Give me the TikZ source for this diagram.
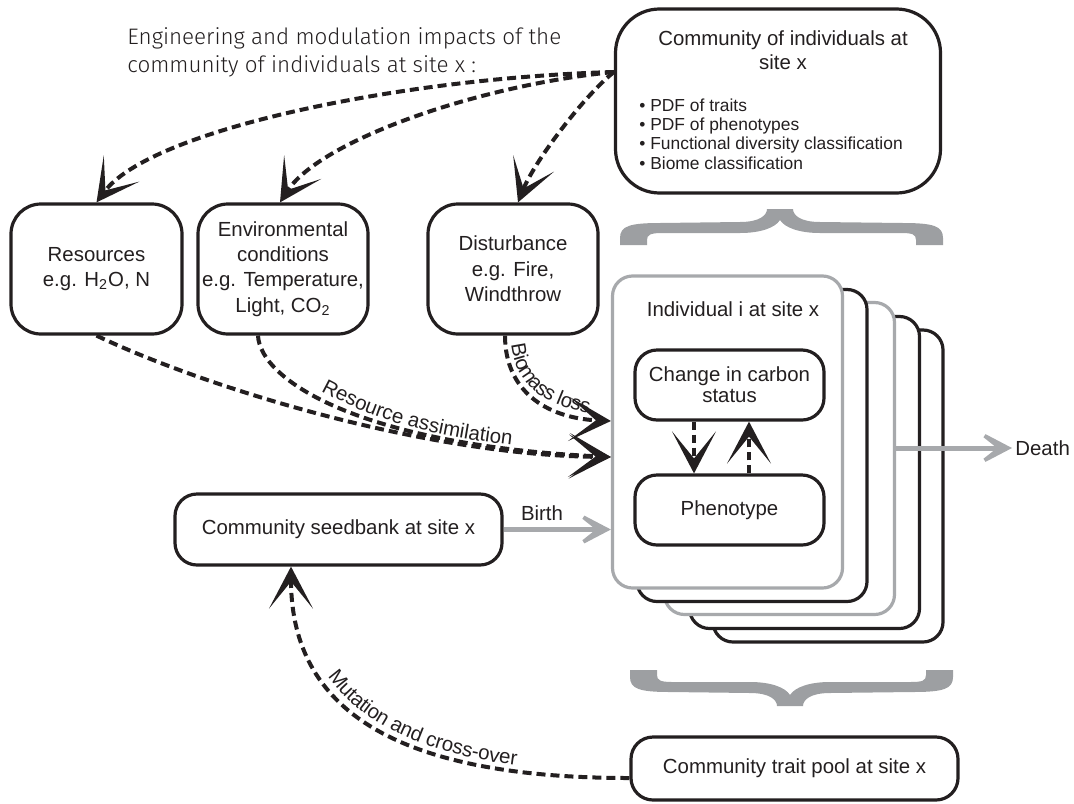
\documentclass[tikz,border=0pt]{standalone}
\usepackage{fontspec}
\setmainfont{Liberation Sans}
\newfontfamily\engfont{Fira Sans Light}
\usetikzlibrary{arrows.meta,decorations.text}
\definecolor{txt}{HTML}{231F20}
\definecolor{gline}{HTML}{A7A9AC}
\definecolor{gbrace}{HTML}{9D9FA2}
\newcommand\mainsz{\fontsize{10.2pt}{12.7pt}\selectfont}
\newcommand\bulsz{\fontsize{8.7pt}{9.7pt}\selectfont}
\newcommand\tightsz{\fontsize{10.2pt}{10.6pt}\selectfont}
\begin{document}
\begin{tikzpicture}[x=0.5pt,y=-0.5pt,
  box/.style={draw=txt, line width=1.6pt, fill=white, rounded corners=15pt, align=center, inner sep=0pt, text=txt, font=\mainsz},
  lbl/.style={inner sep=0pt, text=txt, font=\mainsz, align=center},
  dasharrow/.style={draw=txt, line width=2pt, dash pattern=on 4.5pt off 2.5pt, -{Stealth[length=21pt,width=22pt,inset=13.5pt]}},
  smalldash/.style={dasharrow, line width=1.6pt, dash pattern=on 4pt off 2.5pt},
  greyarrow/.style={draw=gline, line width=2.5pt, -{Stealth[length=22pt,width=23pt,inset=14.5pt]}},
  stackb/.style={draw=txt, line width=1.6pt, fill=white, rounded corners=10pt, minimum width=115pt, minimum height=156pt, inner sep=0pt},
  stackg/.style={stackb, draw=gline}
]
\useasboundingbox (0,0) rectangle (1074,803);

% braces
\fill[gbrace] (620,245) -- (620,238) .. controls (620,226) and (630,223) .. (660,223) -- (740,222) .. controls (760,222) and (767,215) .. (767,209) -- (793,209) .. controls (793,215) and (800,222) .. (820,222) -- (903,223) .. controls (933,223) and (943,226) .. (943,238) -- (943,245) -- (916,245) -- (916,240) .. controls (916,234) and (912,233) .. (900,233) -- (820,233) .. controls (800,233) and (785,228) .. (780,220) .. controls (775,228) and (760,233) .. (740,233) -- (662,233) .. controls (650,233) and (647,235) .. (647,240) -- (647,245) -- cycle;
\begin{scope}[shift={(10,915)}, yscale=-1]
\fill[gbrace] (620,245) -- (620,238) .. controls (620,226) and (630,223) .. (660,223) -- (740,222) .. controls (760,222) and (767,215) .. (767,209) -- (793,209) .. controls (793,215) and (800,222) .. (820,222) -- (903,223) .. controls (933,223) and (943,226) .. (943,238) -- (943,245) -- (916,245) -- (916,240) .. controls (916,234) and (912,233) .. (900,233) -- (820,233) .. controls (800,233) and (785,228) .. (780,220) .. controls (775,228) and (760,233) .. (740,233) -- (662,233) .. controls (650,233) and (647,235) .. (647,240) -- (647,245) -- cycle;
\end{scope}

% header text
\node[inner sep=0pt, anchor=west, align=left, text=txt, font={\engfont\fontsize{11.2pt}{14pt}\selectfont}] (head) at (127,52) {Engineering and modulation impacts of the\\community of individuals at site x :};

% top boxes
\node[box, rounded corners=22pt, minimum width=162.5pt, minimum height=92pt] (comm) at (778,101) {};
\node[lbl, font={\fontsize{10.2pt}{12pt}\selectfont}] (commtitle) at (783,50) {Community of individuals at\\site x};
\node[lbl, anchor=west, align=left, font=\bulsz] (commlist) at (639,134) {• PDF of traits\\• PDF of phenotypes\\• Functional diversity classification\\• Biome classification};

\node[box, minimum width=85.5pt, minimum height=65pt] (res) at (96.5,269) {Resources\\e.g. H\textsubscript{2}O, N};
\node[box, minimum width=85pt, minimum height=65pt] (env) at (283,269) {Environmental\\conditions\\e.g. Temperature,\\Light, CO\textsubscript{2}};
\node[box, minimum width=85pt, minimum height=65pt] (dist) at (513,269) {Disturbance\\e.g. Fire,\\Windthrow};

% stack of individuals
\node[stackb] (s5) at (828,486) {};
\node[stackb] (s4) at (804.5,472.5) {};
\node[stackg] (s3) at (779.5,458.5) {};
\node[stackb] (s2) at (752,445.5) {};
\node[stackg] (s1) at (727.5,432) {};
\node[lbl] (indtitle) at (733,309) {Individual i at site x};
\node[box, rounded corners=11pt, minimum width=94.5pt, minimum height=35pt, font=\tightsz] (change) at (729.5,385) {Change in carbon\\status};
\node[box, rounded corners=11pt, minimum width=94.5pt, minimum height=35pt] (pheno) at (729.5,510) {Phenotype};
\draw[smalldash] ([xshift=-17.75pt]change.south) -- ([xshift=-17.75pt]pheno.north);
\draw[smalldash] ([xshift=9.75pt]pheno.north) -- ([xshift=9.75pt]change.south);

% bottom boxes
\node[box, rounded corners=11pt, minimum width=163.5pt, minimum height=35.5pt] (seed) at (338.5,529.5) {Community seedbank at site x};
\node[box, rounded corners=11pt, minimum width=163.5pt, minimum height=31.5pt] (trait) at (794.5,768.5) {\raisebox{-2pt}{Community trait pool at site x}};

% death and birth
\node[lbl, anchor=west] (deathlbl) at (1015,448) {Death};
\draw[greyarrow] ([yshift=5.25pt]s3.east) -- ([xshift=-1.5pt]deathlbl.west);
\node[lbl] (birthlbl) at (542,513) {Birth};
\draw[greyarrow] (seed.east) -- (seed.east -| s1.west);

% impacts from the community
\draw[dasharrow] ([yshift=14.5pt]comm.west) .. controls (400,78) and (150,130) .. (res.north);
\draw[dasharrow] ([yshift=14.5pt]comm.west) .. controls (480,85) and (320,140) .. ([xshift=-1.5pt]env.north);
\draw[dasharrow] ([yshift=14.5pt]comm.west) .. controls (585,95) and (535,160) .. ([xshift=2.5pt]dist.north);

% resource assimilation and biomass loss
\draw[dasharrow] (res.south) .. controls (200,385) and (420,455) .. ([yshift=-12.5pt]s1.west);
\draw[dasharrow] ([xshift=-12.5pt]env.south) .. controls (260,380) and (360,445) .. ([yshift=-12.5pt]s1.west);
\coordinate (rastart) at (321,391);
\coordinate (raend) at (580,452);
\path[decorate, decoration={text along path, text={|\rmfamily\mainsz|Resource assimilation}, text color=txt, raise=0pt, text align={left indent=0pt}}] (rastart) .. controls (380,423) and (440,441) .. (raend);
\draw[dasharrow] ([xshift=-4pt]dist.south) .. controls (505,390) and (545,418) .. ([yshift=5.5pt]s1.west);
\path[decorate, decoration={text along path, text={|\rmfamily\mainsz|Biomass loss}, text color=txt, raise=3pt, text align={left indent=5pt}}] ([xshift=-4pt]dist.south) .. controls (505,390) and (545,418) .. ([yshift=5.5pt]s1.west);

% mutation
\draw[dasharrow] ([yshift=-4.75pt]trait.west) .. controls (380,778) and (291,700) .. ([xshift=-23.75pt]seed.south);
\path[decorate, decoration={text along path, text={|\rmfamily\mainsz|Mutation and cross-over}, text color=txt, raise=3pt, text align={left indent=60pt}}] ([xshift=-23.75pt]seed.south) .. controls (291,700) and (380,778) .. ([yshift=-4.75pt]trait.west);
\end{tikzpicture}
\end{document}
